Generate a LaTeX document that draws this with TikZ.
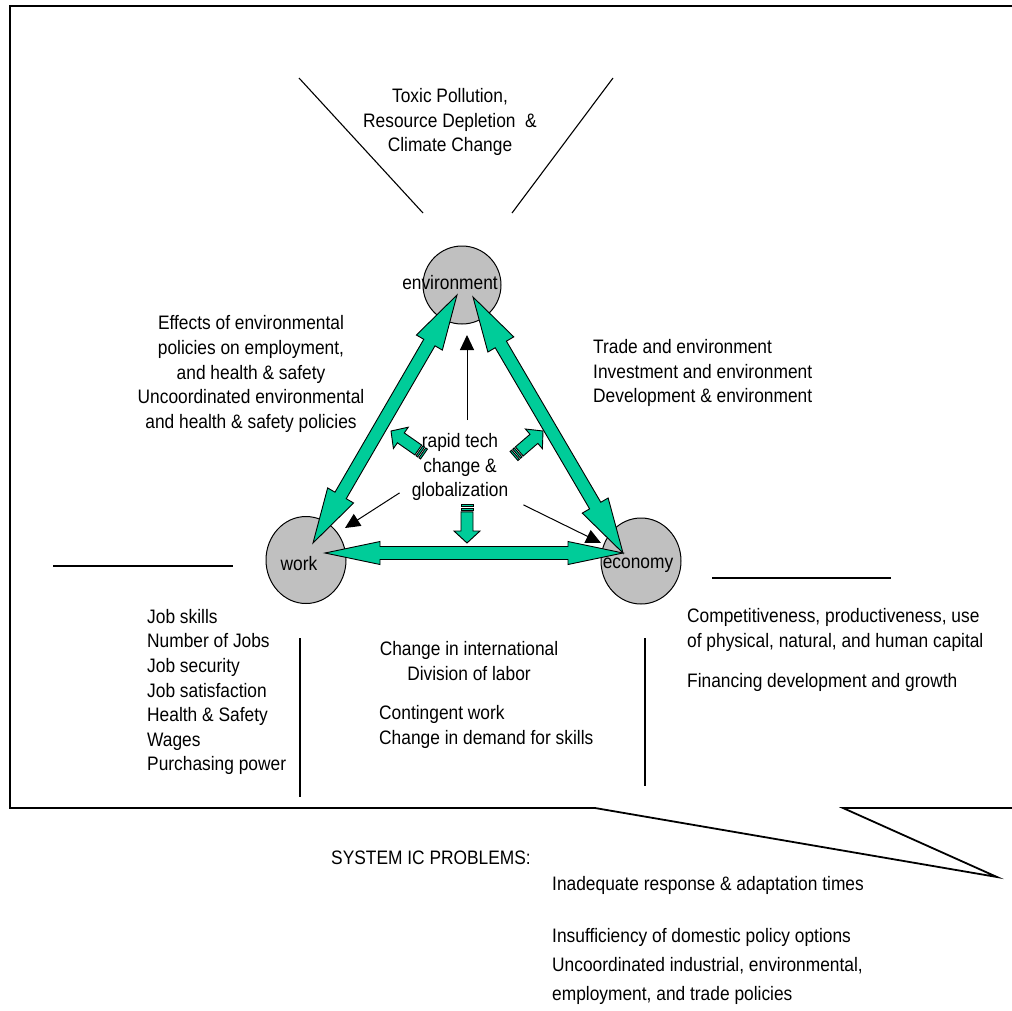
\documentclass[tikz,border=0pt]{standalone}
\usepackage{fontspec}
\setmainfont{Liberation Sans}[FakeStretch=0.89]
\usepackage{tikz}
\usetikzlibrary{calc,arrows.meta,shapes.geometric}
\definecolor{seagreen}{RGB}{0,204,153}
\definecolor{polegray}{RGB}{192,192,192}

\tikzset{
  txt/.style={inner sep=0pt, font=\fontsize{19.5}{24.6}\selectfont},
  pole/.style={draw=black, line width=1pt, fill=polegray, ellipse, inner sep=0pt},
  fatarrow/.style={draw=black, line width=0.9pt, fill=seagreen, line join=miter},
  thinarrow/.style={line width=1pt, -{Triangle[length=15pt,width=14pt]}},
  rule/.style={line width=1.1pt},
  frame/.style={line width=1.8pt},
}

% two-headed block arrow, #3 = half width of the heads
\newcommand{\twoway}[3]{%
  \coordinate (ta) at ($(#1)!55pt!(#2)$);
  \coordinate (tb) at ($(#2)!55pt!(#1)$);
  \filldraw[fatarrow] (#1) -- ($(ta)!#3!-90:(#2)$) -- ($(ta)!6.5pt!-90:(#2)$)
    -- ($(tb)!6.5pt!90:(#1)$) -- ($(tb)!#3!90:(#1)$) -- (#2)
    -- ($(tb)!#3!-90:(#1)$) -- ($(tb)!6.5pt!-90:(#1)$)
    -- ($(ta)!6.5pt!90:(#2)$) -- ($(ta)!#3!90:(#2)$) -- cycle;
}
% small striped block arrow, #1 tail, #2 tip
\newcommand{\stubarrow}[2]{%
  \coordinate (s0) at ($(#1)!2pt!(#2)$);
  \coordinate (s1) at ($(#1)!3.5pt!(#2)$);
  \coordinate (s2) at ($(#1)!5.5pt!(#2)$);
  \coordinate (sa) at ($(#1)!7pt!(#2)$);
  \coordinate (sb) at ($(#2)!12pt!(#1)$);
  \filldraw[fatarrow] ($(#1)!6pt!90:(#2)$) -- ($(#1)!6pt!-90:(#2)$)
    -- ($(s0)!6pt!-90:(#2)$) -- ($(s0)!6pt!90:(#2)$) -- cycle;
  \filldraw[fatarrow] ($(s1)!6pt!90:(#2)$) -- ($(s1)!6pt!-90:(#2)$)
    -- ($(s2)!6pt!-90:(#2)$) -- ($(s2)!6pt!90:(#2)$) -- cycle;
  \filldraw[fatarrow] ($(sa)!6pt!90:(#2)$) -- ($(sb)!6pt!-90:(#1)$)
    -- ($(sb)!13pt!-90:(#1)$) -- (#2) -- ($(sb)!13pt!90:(#1)$)
    -- ($(sb)!6pt!90:(#1)$) -- ($(sa)!6pt!-90:(#2)$) -- cycle;
}

\begin{document}
\begin{tikzpicture}[x=1pt,y=-1pt]
  \useasboundingbox (0,0) rectangle (1012,1010);

  % callout frame
  \draw[frame] (1012,6) -- (10,6) -- (10,808) -- (595,808) -- (997,877)
    -- (843,808) -- (1012,808);

  % separators
  \draw[rule] (299,78) -- (423,213);
  \draw[rule] (613,78) -- (512,213);
  \draw[rule] (53,566) -- (233,566);
  \draw[rule] (712,578) -- (891,578);
  \draw[rule] (300,638) -- (300,797);
  \draw[rule] (645,638) -- (645,786);

  % the three poles
  \node[pole, minimum width=78pt, minimum height=78pt] (env) at (462,285) {};
  \node[pole, minimum width=80pt, minimum height=87pt] (wrk) at (306,560) {};
  \node[pole, minimum width=80pt, minimum height=86pt] (eco) at (641,561) {};

  \coordinate (w1) at ($(wrk.center)+(7,-17)$);
  \coordinate (w2) at ($(wrk.center)+(19,-7)$);
  \coordinate (e1) at ($(env.center)+(-5,10)$);
  \coordinate (e2) at ($(env.center)+(11,12)$);
  \coordinate (c1) at ($(eco.center)+(-18,-8)$);

  \twoway{w1}{e1}{15pt}
  \twoway{e2}{c1}{15pt}
  \twoway{w2}{c1}{11.5pt}

  \node[txt] (env-lbl) at (450,283) {environment};
  \node[txt] (wrk-lbl) at (299,564) {work};
  \node[txt] (eco-lbl) at (638,565) {economy};

  % driver in the middle
  \node[txt, align=center] (hub) at (460,467) {rapid tech\\change \&\\globalization};

  \coordinate (up-end) at (467,335);
  \coordinate (left-end) at (345,528);
  \coordinate (right-end) at (601,543);
  \draw[thinarrow] ($(hub.north)+(7,-13)$) -- (up-end);
  \draw[thinarrow] ($(hub.south west)+(-12,-8)$) -- (left-end);
  \draw[thinarrow] ($(hub.south east)+(15,4)$) -- (right-end);

  \coordinate (dn-tail) at ($(hub.south)+(7,4)$);
  \coordinate (dn-tip) at (467,543);
  \coordinate (ul-tail) at (424,454);
  \coordinate (ul-tip) at (391,431);
  \coordinate (ur-tail) at (514,456);
  \coordinate (ur-tip) at (543,431);
  \stubarrow{dn-tail}{dn-tip}
  \stubarrow{ul-tail}{ul-tip}
  \stubarrow{ur-tail}{ur-tip}

  % texts
  \node[txt, align=center] (nature) at (450,122)
    {Toxic Pollution,\\Resource Depletion\ \ \&\\Climate Change};
  \node[txt, align=center] (policy) at (251,374)
    {Effects of environmental\\policies on employment,\\and health \& safety\\
     Uncoordinated environmental\\and health \& safety policies};
  \node[txt, align=left, anchor=west] (trade) at (593,373)
    {Trade and environment\\Investment and environment\\Development \& environment};
  \node[txt, align=left, anchor=west] (jobs) at (147,692)
    {Job skills\\Number of Jobs\\Job security\\Job satisfaction\\Health \& Safety\\Wages\\Purchasing power};
  \node[txt, align=center] (labor) at (469,661)
    {Change in international\\Division of labor};
  \node[txt, align=left, anchor=west] (demand) at (379,727)
    {Contingent work\\Change in demand for skills};
  \node[txt, align=left, anchor=west] (capital) at (687,630)
    {Competitiveness, productiveness, use\\of physical, natural, and human capital};
  \node[txt, anchor=west] (finance) at (687,682) {Financing development and growth};

  \node[txt, anchor=west] (sys) at (331,858) {SYSTEM IC PROBLEMS:};
  \node[txt, anchor=west] (sys1) at (552,885) {Inadequate response \& adaptation times};
  \node[txt, anchor=west] (sys2) at (552,937) {Insufficiency of domestic policy options};
  \node[txt, align=left, anchor=west] (sys3) at (552,981)
    {Uncoordinated industrial, environmental,\\[5pt]employment, and trade policies};
\end{tikzpicture}
\end{document}
